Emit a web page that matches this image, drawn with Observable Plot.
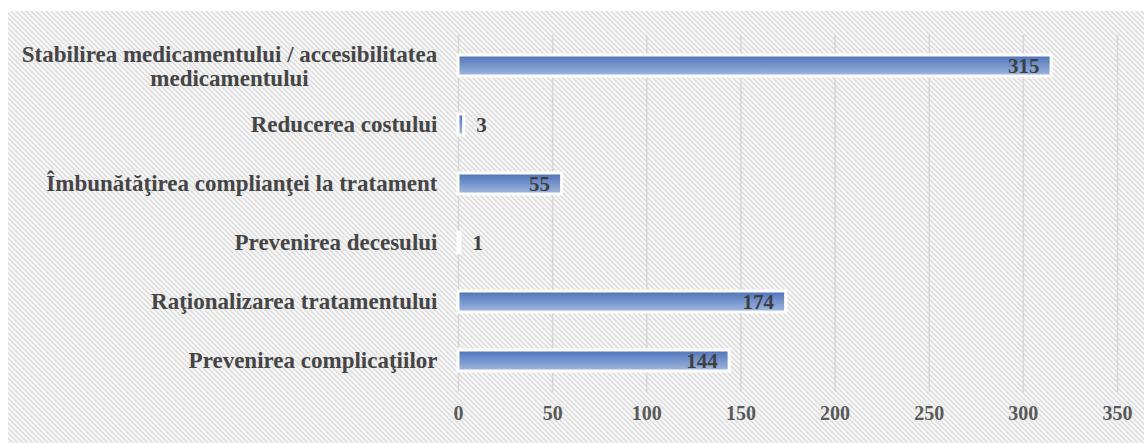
<!DOCTYPE html>
<html><head><meta charset="utf-8">
<script src="https://cdn.jsdelivr.net/npm/d3@7"></script>
<script src="https://cdn.jsdelivr.net/npm/@observablehq/plot@0.6"></script>
<style>body{margin:0;background:#fff} svg{display:block}</style>
</head><body><div id="chart"></div>
<script>
const categories = [
  "Stabilirea medicamentului / accesibilitatea\nmedicamentului",
  "Reducerea costului",
  "Îmbunătăţirea complianţei la tratament",
  "Prevenirea decesului",
  "Raţionalizarea tratamentului",
  "Prevenirea complicaţiilor"
];
const values = [315, 3, 55, 1, 174, 144];
const xTicks = [0, 50, 100, 150, 200, 250, 300, 350];

const data = categories.map((c, i) => ({category: c, value: values[i]}));
const multiLine = data.filter(d => d.category.includes("\n"));
const singleLine = data.filter(d => !d.category.includes("\n"));
const inside = data.filter(d => d.value >= 20);
const outside = data.filter(d => d.value < 20);

const font = "'Liberation Serif','Times New Roman',serif";
const labelStyle = {fontFamily: font, fontSize: 23, fontWeight: "bold", fill: "#454545"};
const valueStyle = {fontFamily: font, fontSize: 21, fontWeight: "bold", fill: "#404040"};

const chart = Plot.plot({
  width: 1144, height: 443,
  marginLeft: 458, marginRight: 27, marginTop: 35, marginBottom: 51,
  style: {fontFamily: font, background: "transparent", overflow: "visible"},
  x: {domain: [0, 350], ticks: xTicks, label: null},
  y: {domain: categories, paddingInner: 0.64, paddingOuter: 0.32, axis: null},
  marks: [
    Plot.gridX(xTicks, {stroke: "#d6d6d6", strokeOpacity: 1, strokeWidth: 1.5}),
    Plot.axisX(xTicks, {tickSize: 0, tickPadding: 13, fontFamily: font, fontSize: 20, fontWeight: "bold", fill: "#595959", label: null}),
    Plot.barX(data, {x: "value", y: "category", fill: "url(#barGrad)", stroke: "white", strokeWidth: 3}),
    Plot.text(singleLine, {x: 0, y: "category", text: "category", textAnchor: "end", dx: -21, ...labelStyle}),
    Plot.text(multiLine, {x: 0, y: "category", text: "category", textAnchor: "middle", dx: -229, lineHeight: 1.05, ...labelStyle}),
    Plot.text(inside, {x: "value", y: "category", text: d => String(d.value), textAnchor: "end", dx: -12, ...valueStyle}),
    Plot.text(outside, {x: "value", y: "category", text: d => String(d.value), textAnchor: "start", dx: 12, ...valueStyle})
  ]
});

const ns = "http://www.w3.org/2000/svg";
const defs = document.createElementNS(ns, "defs");
defs.innerHTML = `
  <linearGradient id="barGrad" x1="0" y1="0" x2="0" y2="1">
    <stop offset="0" stop-color="#4a72b9"/>
    <stop offset="1" stop-color="#a2b8e0"/>
  </linearGradient>
  <pattern id="stripes" patternUnits="userSpaceOnUse" width="5" height="5">
    <rect width="5" height="5" fill="#f7f7f7"/>
    <path d="M0,0 L5,5 M-1,4 L1,6 M4,-1 L6,1" stroke="#dcdcdc" stroke-width="1.4"/>
  </pattern>`;
chart.insertBefore(defs, chart.firstChild);
const bg = document.createElementNS(ns, "rect");
bg.setAttribute("x", 8); bg.setAttribute("y", 11);
bg.setAttribute("width", 1136); bg.setAttribute("height", 432);
bg.setAttribute("fill", "url(#stripes)");
defs.after(bg);
document.getElementById("chart").appendChild(chart);
</script>
</body></html>
